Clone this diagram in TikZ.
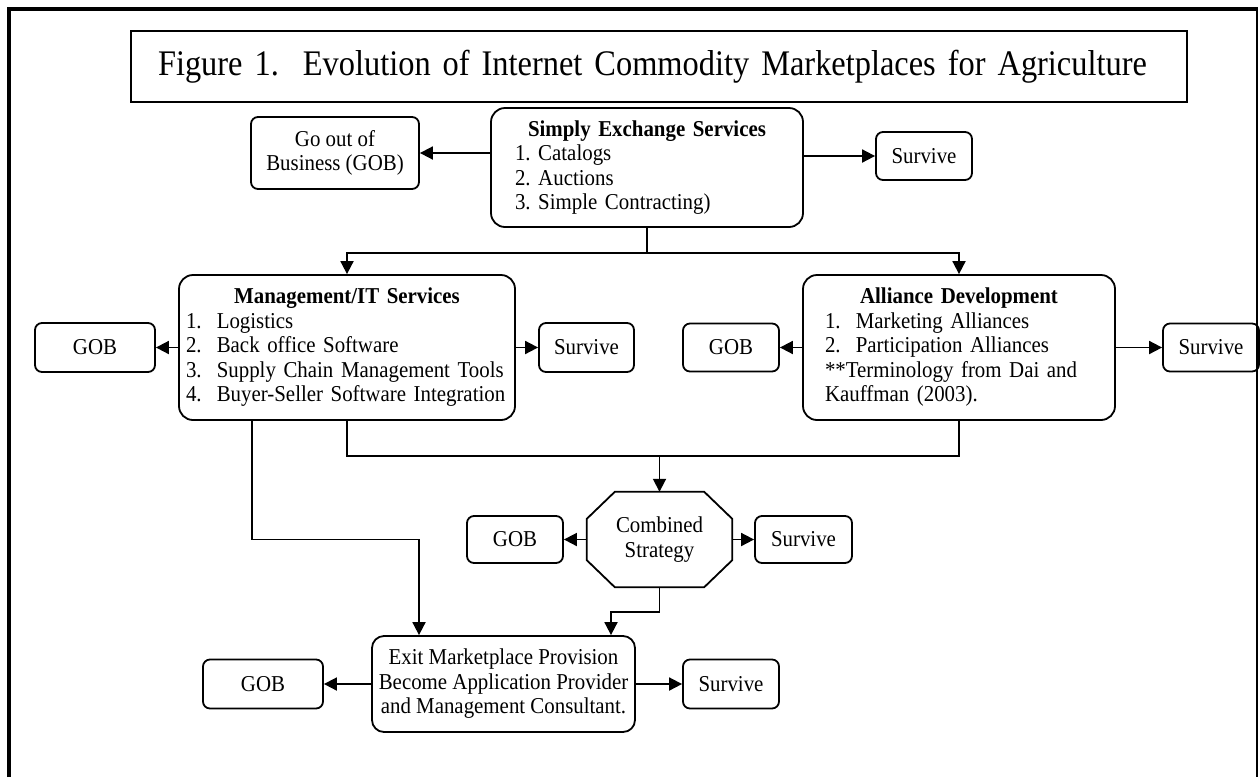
\documentclass[tikz,border=0pt]{standalone}
\usepackage{fontspec}
\setmainfont{Liberation Serif}[FakeStretch=0.92]
\newfontfamily\titlefont{Liberation Serif}[FakeStretch=0.9]
\usetikzlibrary{arrows.meta}

\begin{document}
\frenchspacing
\begin{tikzpicture}[x=1pt,y=-1pt,
  font=\fontsize{22.7}{24.5}\selectfont,
  every node/.style={inner sep=0pt},
  box/.style={draw,line width=1.8pt,rounded corners=7pt,align=center},
  bigbox/.style={draw,line width=1.8pt,rounded corners=14pt,align=left},
  arr/.style={line width=1.8pt,-{Triangle[length=13pt,width=13pt]}}]
  \useasboundingbox (0,0) rectangle (1260,777);

  % page frame, open at the bottom
  \draw[line width=3.5pt] (9,777) -- (9,9) -- (1258,9);
  \draw[line width=2pt] (1257,9) -- (1257,777);

  \node[draw,line width=2.5pt,text width=1002pt,inner xsep=27pt,minimum height=71pt,align=left,
        font=\titlefont\fontsize{36}{40}\selectfont] (title) at (659,66.5)
        {Figure 1.\ \ Evolution of Internet Commodity Marketplaces for Agriculture};

  % first stage
  \node[bigbox,text width=264pt,inner xsep=24pt,minimum height=119pt] (ses) at (647,167.5)
        {{\centering\bfseries Simply Exchange Services\par}\raggedright
         1. Catalogs\\2. Auctions\\3. Simple Contracting)};
  \node[box,minimum width=168pt,minimum height=72pt] (gob0) at (335,153) {Go out of\\Business (GOB)};
  \node[box,minimum width=96pt,minimum height=48pt] (surv0) at (924,156) {Survive};

  % second stage
  \node[bigbox,text width=322pt,inner xsep=7pt,minimum height=145pt] (mit) at (347,347.5)
        {{\centering\bfseries Management/IT Services\par}\raggedright
         1.\ \ Logistics\\2.\ \ Back office Software\\3.\ \ Supply Chain Management Tools\\4.\ \ Buyer-Seller Software Integration};
  \node[box,minimum width=120pt,minimum height=49pt] (gob1) at (95,347.5) {GOB};
  \node[box,minimum width=95pt,minimum height=49pt] (surv1) at (586.5,347.5) {Survive};

  \node[bigbox,text width=268pt,inner xsep=22pt,minimum height=145pt] (ad) at (959,347.5)
        {{\centering\bfseries Alliance Development\par}\raggedright
         1.\ \ Marketing Alliances\\2.\ \ Participation Alliances\\{}**Terminology from Dai and\\Kauffman (2003).};
  \node[box,minimum width=96pt,minimum height=48pt] (gob2) at (731,347.5) {GOB};
  \node[box,minimum width=96pt,minimum height=48pt] (surv2) at (1211,347.5) {Survive};

  % combined strategy
  \node[minimum width=145pt,minimum height=95pt,align=center] (oct) at (659.5,539.5) {Combined\\Strategy};
  \draw[line width=1.8pt] ([xshift=28]oct.north west) -- ([xshift=-28]oct.north east)
    -- ([yshift=-27]oct.north east) -- ([yshift=27]oct.south east)
    -- ([xshift=-28]oct.south east) -- ([xshift=28]oct.south west)
    -- ([yshift=27]oct.south west) -- ([yshift=-27]oct.north west) -- cycle;
  \node[box,minimum width=96pt,minimum height=47pt] (gob3) at (515,539.5) {GOB};
  \node[box,minimum width=97pt,minimum height=47pt] (surv3) at (803.5,539.5) {Survive};

  % exit
  \node[box,rounded corners=12pt,minimum width=263pt,minimum height=96pt] (exit) at (503.5,684)
        {Exit Marketplace Provision\\Become Application Provider\\and Management Consultant.};
  \node[box,minimum width=120pt,minimum height=49pt] (gob4) at (263,684) {GOB};
  \node[box,minimum width=96pt,minimum height=49pt] (surv4) at (731,684) {Survive};

  % connectors
  \draw[arr] (ses.west |- gob0.east) -- (gob0.east);
  \draw[arr] (ses.east |- surv0.west) -- (surv0.west);
  \draw[line width=1.8pt] (ses.south) -- ++(0,25) coordinate (split);
  \draw[arr] (split) -| (mit.north);
  \draw[arr] (split) -| (ad.north);

  \draw[arr] (mit.west) -- (gob1.east);
  \draw[arr] (mit.east) -- (surv1.west);
  \draw[arr] (ad.west) -- (gob2.east);
  \draw[arr] (ad.east) -- (surv2.west);

  \draw[line width=1.8pt] (mit.south) -- ++(0,35) coordinate (join) -| (ad.south);
  \draw[arr] (join -| oct.north) -- (oct.north);
  \draw[arr] ([xshift=-95]mit.south) |- ([xshift=-84.5]exit.north |- oct.west) -- ([xshift=-84.5]exit.north);

  \draw[arr] (oct.west) -- (gob3.east);
  \draw[arr] (oct.east) -- (surv3.west);
  \draw[arr] (oct.south) -- ++(0,25) -| ([xshift=107.5]exit.north);

  \draw[arr] (exit.west) -- (gob4.east);
  \draw[arr] (exit.east) -- (surv4.west);
\end{tikzpicture}
\end{document}
